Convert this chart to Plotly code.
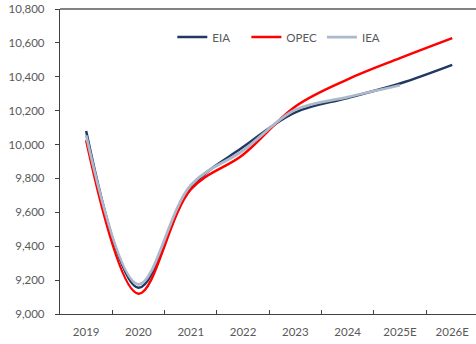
import plotly.graph_objects as go

years = ["2019", "2020", "2021", "2022", "2023", "2024", "2025E", "2026E"]
eia = [10080, 9155, 9745, 9985, 10190, 10275, 10360, 10470]
opec = [10025, 9120, 9735, 9940, 10225, 10385, 10510, 10628]
iea = [10055, 9175, 9760, 9965, 10205, 10280, 10350]

FONT = "Lato"
GRAY = "#595959"
NB = "\u00a0"

fig = go.Figure()
fig.add_trace(go.Scatter(x=years, y=eia, name="EIA" + NB * 4, mode="lines",
                         line=dict(color="#1F3864", width=2.5, shape="spline", smoothing=1)))
fig.add_trace(go.Scatter(x=years, y=opec, name="OPEC", mode="lines",
                         line=dict(color="#FF0000", width=2.5, shape="spline", smoothing=1)))
fig.add_trace(go.Scatter(x=years[:len(iea)], y=iea, name="IEA", mode="lines",
                         line=dict(color="#ADB9CA", width=2.8, shape="spline", smoothing=1)))

fig.update_layout(
    width=476, height=344,
    margin=dict(l=60, r=0, t=9, b=30),
    paper_bgcolor="white", plot_bgcolor="white",
    font=dict(family=FONT, size=11.5, color=GRAY),
    showlegend=True,
    legend=dict(orientation="h", x=0.27, y=0.908, xanchor="left", yanchor="middle",
                bgcolor="rgba(0,0,0,0)", font=dict(size=11.5, color=GRAY),
                itemwidth=30, tracegroupgap=0),
    xaxis=dict(type="category", range=[-0.5, 7.454], showgrid=False,
               showline=True, linecolor="#404040", linewidth=1.3,
               ticks="inside", ticklen=4, tickcolor="#404040", tickson="boundaries",
               tickfont=dict(size=11.5, color=GRAY), zeroline=False,
               ticklabelstandoff=7),
    yaxis=dict(range=[9000, 10800], dtick=200, tickformat=",", showgrid=False,
               showline=True, linecolor="#404040", linewidth=1.3,
               ticks="outside", ticklen=4, tickcolor="#404040",
               tickfont=dict(size=11.5, color=GRAY), zeroline=False,
               ticklabelstandoff=8, ticklabeloverflow="allow"),
    shapes=[dict(type="line", xref="paper", yref="paper", x0=0, x1=1, y0=1, y1=1,
                 line=dict(color="#595959", width=1.3))],
)

fig.write_html("out.html", config={"displayModeBar": False},
               post_script="document.body.style.margin='0';")
